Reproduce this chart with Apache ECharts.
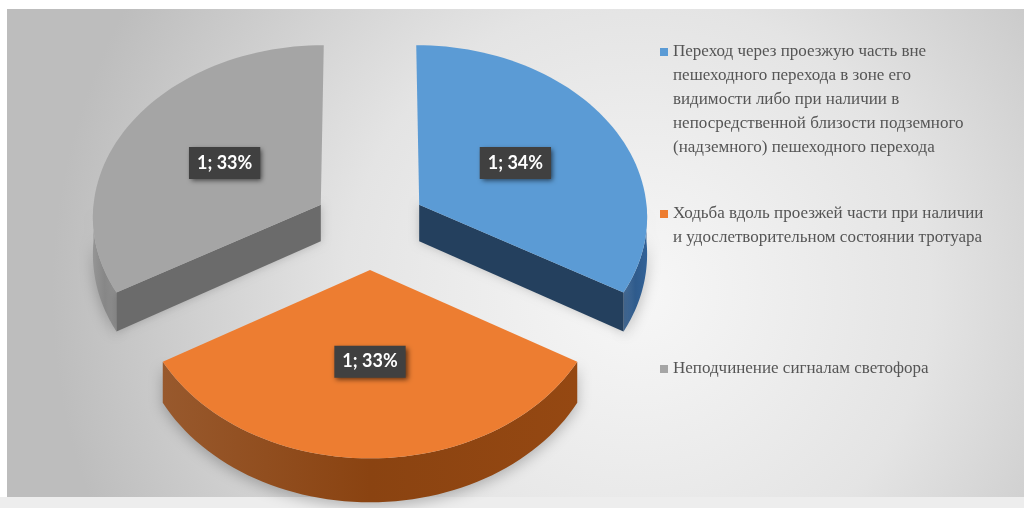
<!DOCTYPE html>
<html><head><meta charset="utf-8">
<script src="https://cdn.jsdelivr.net/npm/echarts@6/dist/echarts.min.js"></script>
<style>html,body{margin:0;padding:0;background:#fff}#c{width:1024px;height:508px}</style>
</head><body><div id="c"></div>
<script>
// ---- data ----
const categories = [
  'Переход через проезжую часть вне\nпешеходного перехода в зоне его\nвидимости либо при наличии в\nнепосредственной близости подземного\n(надземного) пешеходного перехода',
  'Ходьба вдоль проезжей части при наличии\nи удослетворительном состоянии тротуара',
  'Неподчинение сигналам светофора'
];
const values = [1, 1, 1];
const percents = [34, 33, 33];
const topColors = ['#5B9BD5', '#ED7D31', '#A5A5A5'];
const cutColors = ['#24405E', '#8A420F', '#6B6B6B'];
const wallColors = ['#2F5B8C', '#8A4311', '#878787'];

// ---- geometry of the pseudo-3D pie ----
const geo = {cx: 370, cy: 226.3, a: 229, b: 172.7, k: 0.06, depth: 37, kd: 0.15, explode: 0.25, labelR: 0.5, steps: 60};
const total = values.reduce((s, v) => s + v, 0);
const starts = [];
(function(){ let acc = 0; values.forEach(v => { starts.push(acc / total * 360); acc += v; }); })();
const rad = d => d * Math.PI / 180;
function proj(X, Y) { const s = 1 - geo.k * Y; return [geo.cx + geo.a * X * s, geo.cy - geo.b * Y * s]; }
function dep(Y) { return geo.depth * (1 - geo.kd * Y); }

function makeRender(i) {
  return function (params, api) {
    const v = api.value(0);
    const t0 = starts[i], t1 = t0 + v / total * 360, mid = (t0 + t1) / 2;
    const VX = geo.explode * Math.sin(rad(mid)), VY = geo.explode * Math.cos(rad(mid));
    const rim = t => [VX + Math.sin(rad(t)), VY + Math.cos(rad(t))];
    const P = w => proj(w[0], w[1]);
    const Pd = w => { const p = proj(w[0], w[1]); return [p[0], p[1] + dep(w[1])]; };
    const children = [];
    // outer wall, visible part (90..270)
    const w0 = Math.max(t0, 90), w1 = Math.min(t1, 270);
    if (w1 > w0) {
      const topPts = [], botPts = [];
      for (let s = 0; s <= geo.steps; s++) {
        const t = w0 + (w1 - w0) * s / geo.steps;
        topPts.push(P(rim(t))); botPts.push(Pd(rim(t)));
      }
      children.push({type: 'polygon', shape: {points: topPts.concat(botPts.reverse())},
        style: {fill: {type: 'linear', x: 0, y: 0, x2: 1, y2: 0, colorStops: [
          {offset: 0, color: echarts.color.lift(wallColors[i], 0.12)},
          {offset: 0.5, color: wallColors[i]},
          {offset: 1, color: echarts.color.lift(wallColors[i], -0.08)}]},
          shadowBlur: 14, shadowColor: 'rgba(0,0,0,0.25)', shadowOffsetY: 4}});
    }
    const V = [VX, VY];
    const cut = t => {
      const r = rim(t);
      return {type: 'polygon', shape: {points: [P(V), P(r), Pd(r), Pd(V)]}, style: {fill: cutColors[i], shadowBlur: 10, shadowColor: 'rgba(0,0,0,0.2)'}};
    };
    if (Math.cos(rad(t0 - 90)) < -1e-6) children.push(cut(t0));
    if (Math.cos(rad(t1 + 90)) < -1e-6) children.push(cut(t1));
    // top face
    const pts = [P(V)];
    for (let s = 0; s <= geo.steps; s++) pts.push(P(rim(t0 + (t1 - t0) * s / geo.steps)));
    children.push({type: 'polygon', shape: {points: pts}, style: {fill: topColors[i]}});
    // label
    const lw = [VX + geo.labelR * Math.sin(rad(mid)), VY + geo.labelR * Math.cos(rad(mid))];
    const lp = P(lw);
    children.push({type: 'text', x: lp[0], y: lp[1], z2: 10, style: {
      text: v + '; ' + percents[i] + '%', fill: '#ffffff', font: 'bold 18px Lato',
      align: 'center', verticalAlign: 'middle', backgroundColor: '#404040', padding: [7, 8, 7, 8],
      shadowBlur: 5, shadowColor: 'rgba(0,0,0,0.6)', shadowOffsetX: 2, shadowOffsetY: 2}});
    return {type: 'group', children: children};
  };
}

const legendTargets = [52, 214, 369];
const LH = 24;
const legends = categories.map((name, i) => {
  const n = name.split('\n').length;
  const H = n * LH;
  return {
    data: [name], orient: 'vertical', left: 655,
    top: legendTargets[i] - 5 - LH / 2,
    // square aligned with the first text line inside a box as tall as the text
    icon: 'path://M0,0M0,' + (LH / 2 - 4) + 'H8V' + (LH / 2 + 4) + 'H0ZM8,' + H,
    itemWidth: 8, itemHeight: H, selectedMode: false,
    textStyle: {color: '#555555', fontFamily: 'Liberation Serif', fontSize: 17, lineHeight: LH}
  };
});

const chart = echarts.init(document.getElementById('c'));
chart.setOption({
  backgroundColor: '#ffffff',
  animation: false,
  graphic: [
    {type: 'rect', z: 0, shape: {x: 7, y: 9, width: 1017, height: 488}, style: {fill: {type: 'radial', x: 0.62, y: 0.58, r: 1.2, colorStops: [
      {offset: 0, color: '#F7F7F7'}, {offset: 0.5, color: '#E4E4E4'}, {offset: 1, color: '#BDBDBD'}]}}},
    {type: 'rect', z: 0, shape: {x: 0, y: 497, width: 1024, height: 11}, style: {fill: '#EDEDED'}}
  ],
  legend: legends,
  series: categories.map((name, i) => ({
    type: 'custom', name: name, coordinateSystem: 'none', z: i === 1 ? 3 : 2,
    itemStyle: {color: topColors[i]},
    renderItem: makeRender(i),
    data: [[values[i]]]
  }))
});
</script></body></html>
